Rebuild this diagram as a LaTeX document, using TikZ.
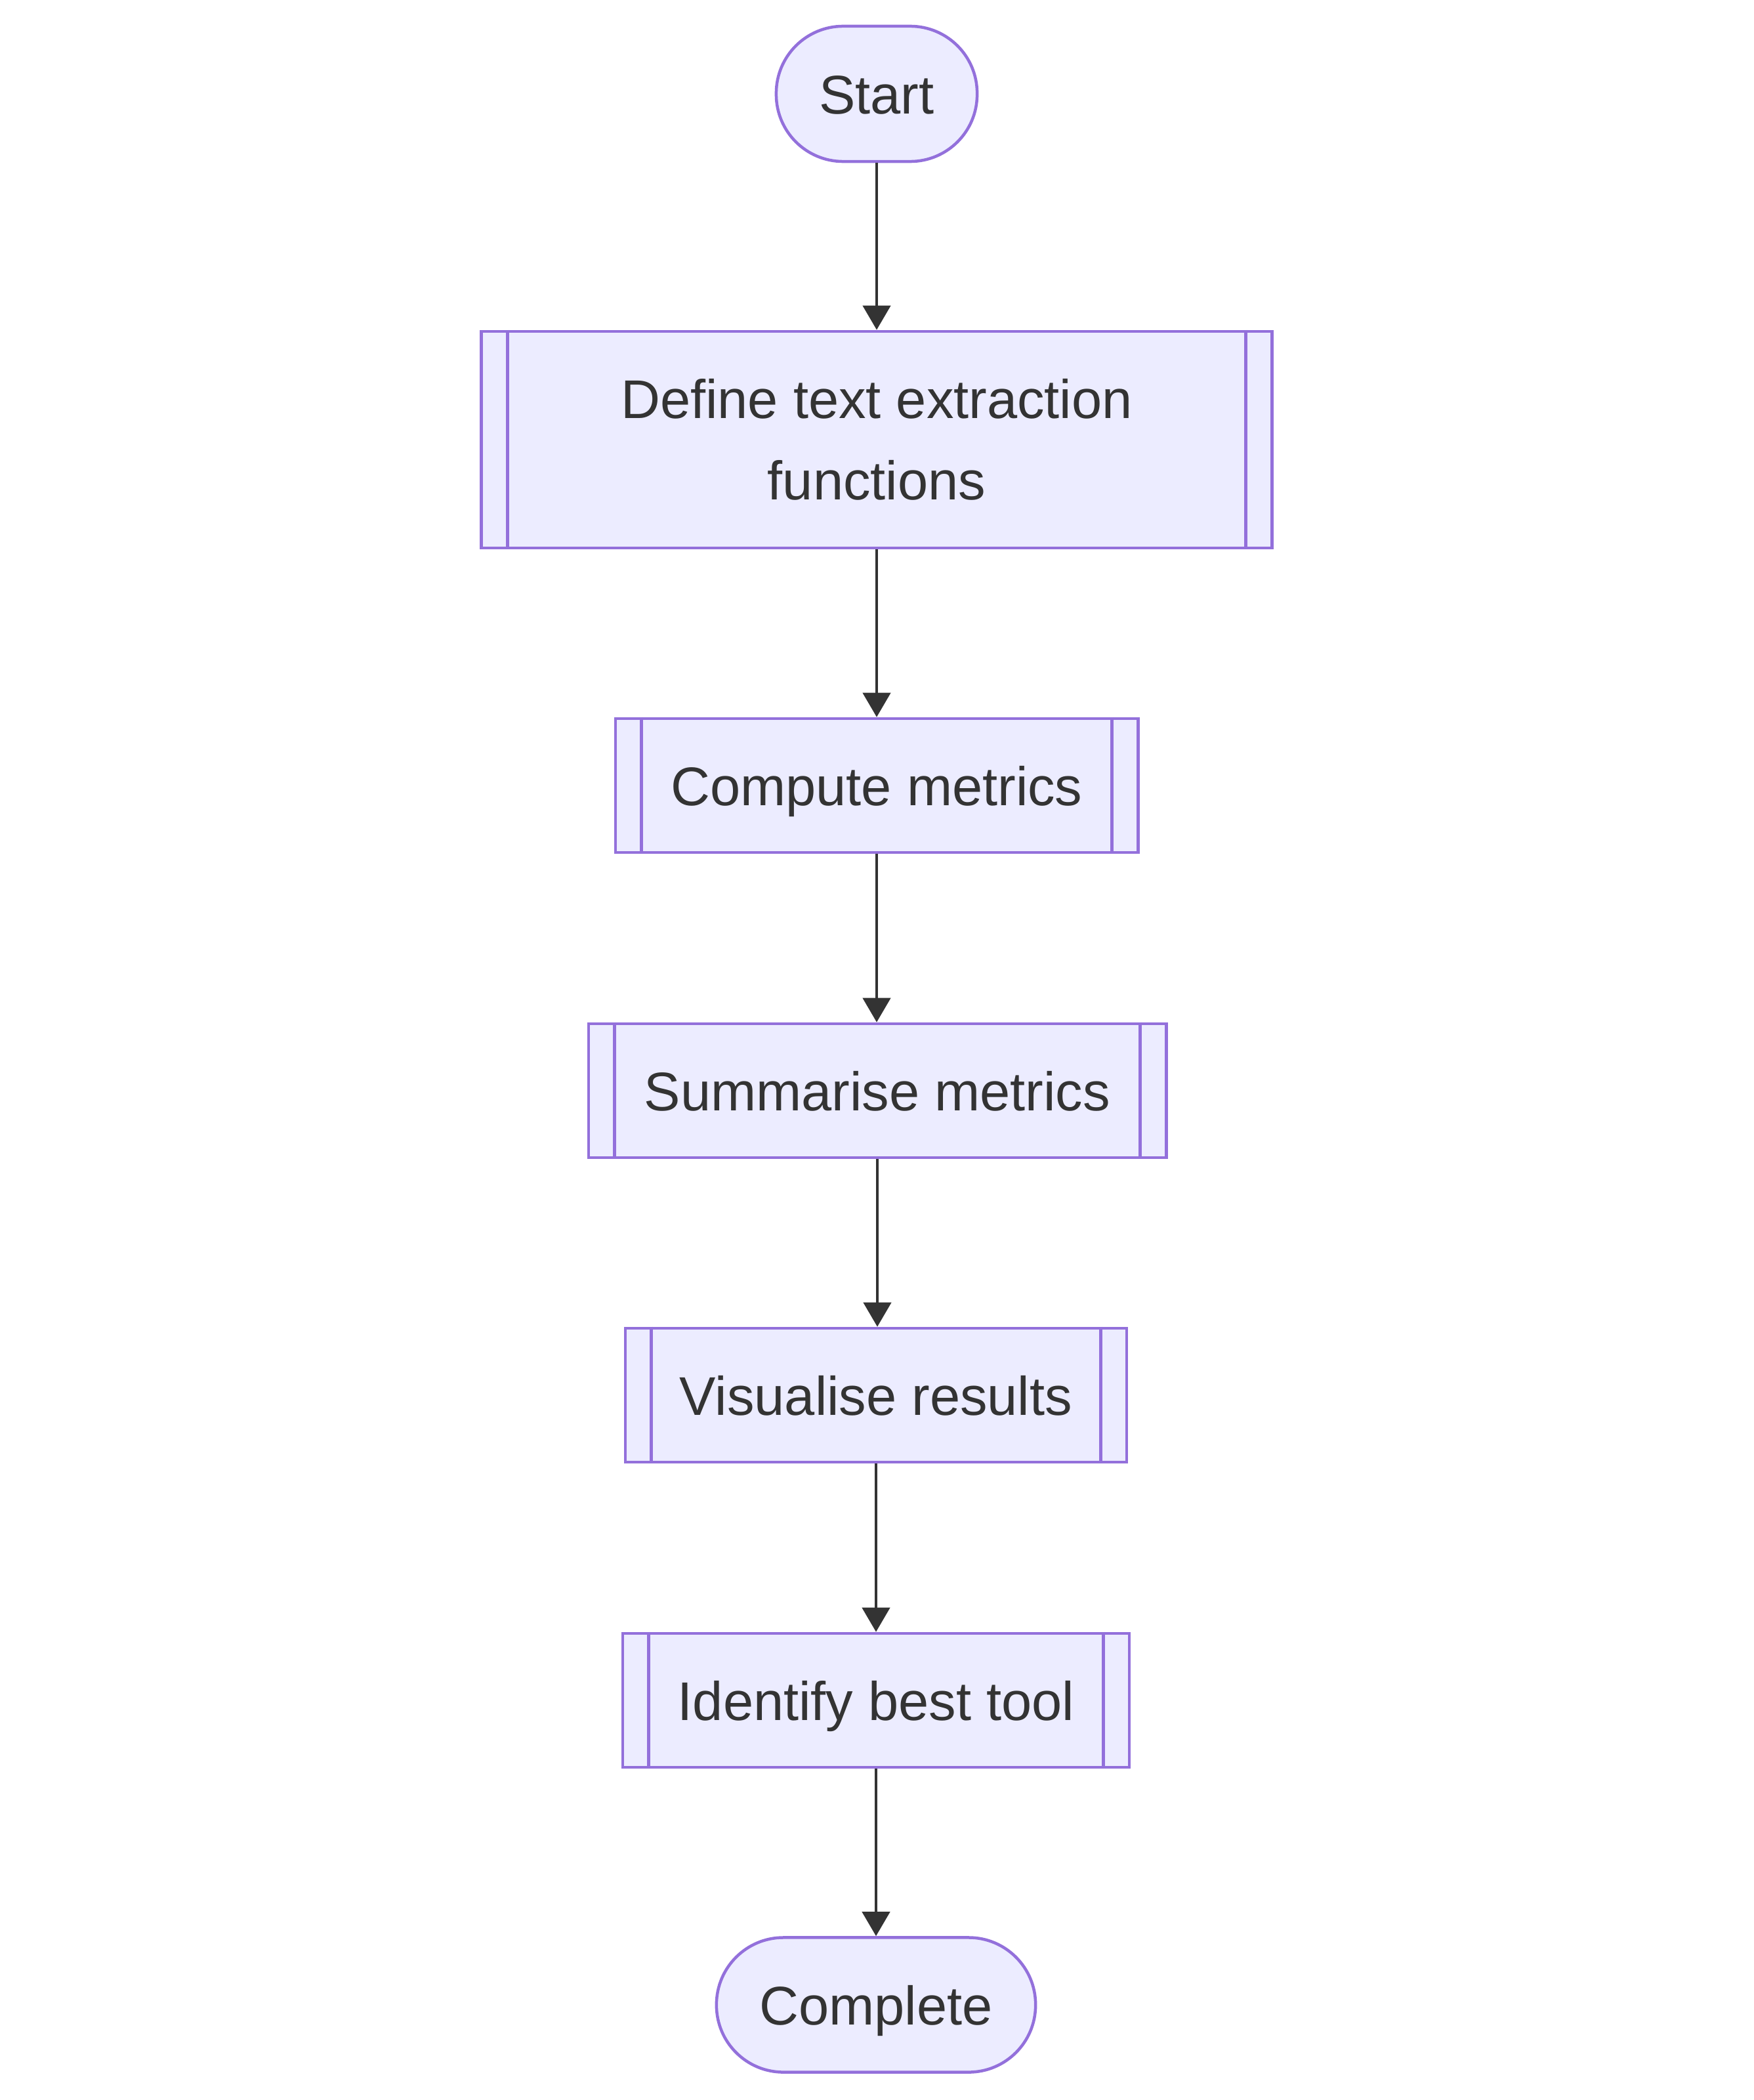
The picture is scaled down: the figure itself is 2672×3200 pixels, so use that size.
\documentclass[tikz,border=0pt]{standalone}
\usepackage{fontspec}
\setmainfont{Liberation Sans}
\usetikzlibrary{arrows.meta}
\definecolor{nodefill}{HTML}{ECECFF}
\definecolor{nodeborder}{HTML}{9370DB}
\definecolor{inkc}{HTML}{333333}
\tikzset{
  base/.style={draw=nodeborder, fill=nodefill, line width=0.045cm, text=inkc,
    inner sep=0pt, font=\fontsize{23.6pt}{35.4pt}\selectfont},
  one/.style={text height=0.6cm, text depth=0pt},
  term/.style={base, one, rounded corners=1.02cm},
  sub/.style={base},
  conn/.style={draw=inkc, line width=0.045cm, -{Triangle[length=0.37cm,width=0.42cm]}}
}
\begin{document}
\begin{tikzpicture}[x=0.01cm,y=-0.01cm]
\useasboundingbox (0,0) rectangle (2672,3200);
\node[term, minimum width=3.06cm, minimum height=2.06cm] (start) at (1336,143) {Start};
\node[sub, align=center, minimum width=12.04cm, minimum height=3.30cm] (define) at (1336,670) {Define text extraction\\functions};
\node[sub, one, minimum width=7.96cm, minimum height=2.04cm] (compute) at (1336,1197) {Compute metrics};
\node[sub, one, minimum width=8.80cm, minimum height=2.04cm] (summ) at (1337,1662) {Summarise metrics};
\node[sub, one, minimum width=7.64cm, minimum height=2.04cm] (vis) at (1335,2126) {Visualise results};
\node[sub, one, minimum width=7.72cm, minimum height=2.04cm] (ident) at (1335,2591) {Identify best tool};
\node[term, minimum width=4.86cm, minimum height=2.05cm] (complete) at (1335,3055) {Complete};
\foreach \n in {define,compute,summ,vis,ident}{
  \draw[draw=nodeborder, line width=0.045cm] ([xshift=0.42cm]\n.north west) -- ([xshift=0.42cm]\n.south west);
  \draw[draw=nodeborder, line width=0.045cm] ([xshift=-0.42cm]\n.north east) -- ([xshift=-0.42cm]\n.south east);
}
\draw[conn] (start) -- (define);
\draw[conn] (define) -- (compute);
\draw[conn] (compute) -- (summ.north -| compute);
\draw[conn] (summ) -- (vis.north -| summ);
\draw[conn] (vis) -- (ident);
\draw[conn] (ident) -- (complete);
\end{tikzpicture}
\end{document}
